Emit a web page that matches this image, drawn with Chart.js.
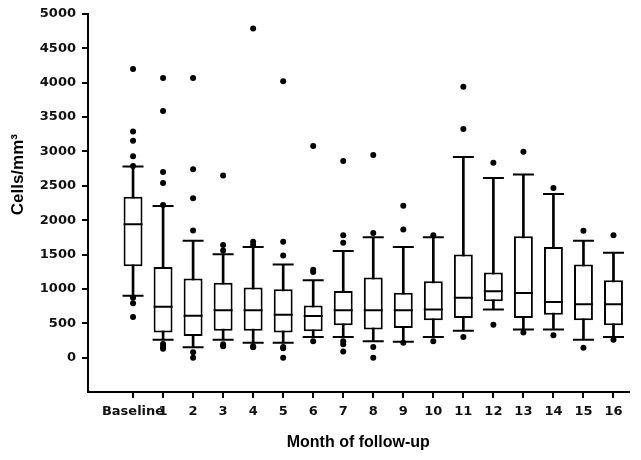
<!DOCTYPE html>
<html>
<head>
<meta charset="utf-8">
<script src="https://cdn.jsdelivr.net/npm/chart.js@4"></script>
<style>
  body { margin: 0; background: #fff; }
  #wrap { width: 641px; height: 460px; }
</style>
</head>
<body>
<div id="wrap"><canvas id="boxChart" width="641" height="460"></canvas></div>
<script>
// box plot data
var categories = ["Baseline", "1", "2", "3", "4", "5", "6", "7", "8", "9", "10", "11", "12", "13", "14", "15", "16"];
var whiskerLow = [900, 260, 150, 260, 215, 215, 300, 300, 240, 230, 300, 390, 700, 410, 410, 260, 300];
var q1 = [1330, 365, 315, 390, 390, 365, 385, 470, 410, 430, 545, 575, 820, 575, 625, 545, 470];
var median = [1940, 740, 610, 690, 690, 625, 605, 690, 690, 690, 700, 870, 965, 940, 810, 775, 775];
var q3 = [2340, 1320, 1150, 1090, 1020, 995, 760, 970, 1165, 945, 1110, 1500, 1240, 1765, 1610, 1355, 1125];
var whiskerHigh = [2780, 2205, 1700, 1505, 1610, 1355, 1125, 1550, 1750, 1610, 1750, 2920, 2615, 2665, 2380, 1700, 1525];
var outliers = [
    [4200, 3290, 3155, 2930, 2790, 870, 790, 590],
    [4070, 3590, 2700, 2540, 2220, 200, 160, 130],
    [4070, 2740, 2320, 1850, 80, 0],
    [2650, 1640, 1560, 195, 165],
    [4790, 1685, 1640, 165, 150],
    [4020, 1685, 1485, 155, 135, 0],
    [3080, 1280, 1245, 240],
    [2860, 1780, 1670, 240, 195, 90],
    [2950, 1815, 155, 0],
    [2210, 1865, 215],
    [1780, 240],
    [3940, 3325, 300],
    [2835, 480],
    [2995, 365],
    [2470, 325],
    [1845, 145],
    [1780, 260]
];
var yTicks = { min: -500, max: 5000, step: 500 };

// empty first slot gives the wider gap left of Baseline
var labels = [""].concat(categories);

var outlierPoints = [];
categories.forEach(function (c, i) {
    outliers[i].forEach(function (v) {
        outlierPoints.push({ x: c, y: v });
    });
});

function pts(arr) {
    return categories.map(function (c, i) { return { x: c, y: arr[i] }; });
}

var fontTick = { family: "DejaVu Sans", size: 13, weight: "bold" };

var ctx = document.getElementById("boxChart").getContext("2d");
var chart = new Chart(ctx, {
    type: "bar",
    data: {
        labels: labels,
        datasets: [
            {
                // whisker stems
                label: "range",
                data: categories.map(function (c, i) { return { x: c, y: [whiskerLow[i], whiskerHigh[i]] }; }),
                backgroundColor: "#000",
                barThickness: 2,
                grouped: false,
                order: 5,
            },
            {
                label: "IQR",
                data: categories.map(function (c, i) { return { x: c, y: [q1[i], q3[i]] }; }),
                backgroundColor: "#fff",
                borderColor: "#000",
                borderWidth: 2,
                borderSkipped: false,
                barPercentage: 0.63,
                categoryPercentage: 1,
                grouped: false,
                order: 4,
            },
            {
                type: "line",
                label: "median",
                data: pts(median),
                showLine: false,
                pointStyle: "line",
                pointRadius: 9.5,
                pointBorderWidth: 2,
                pointBorderColor: "#000",
                order: 3,
            },
            {
                type: "line",
                label: "cap high",
                data: pts(whiskerHigh),
                showLine: false,
                pointStyle: "line",
                pointRadius: 10.5,
                pointBorderWidth: 2,
                pointBorderColor: "#000",
                order: 2,
            },
            {
                type: "line",
                label: "cap low",
                data: pts(whiskerLow),
                showLine: false,
                pointStyle: "line",
                pointRadius: 10.5,
                pointBorderWidth: 2,
                pointBorderColor: "#000",
                order: 2,
            },
            {
                type: "line",
                label: "outliers",
                data: outlierPoints,
                showLine: false,
                pointStyle: "circle",
                pointRadius: 3,
                pointBackgroundColor: "#000",
                pointBorderColor: "#000",
                pointBorderWidth: 0,
                order: 1,
            },
        ],
    },
    options: {
        responsive: false,
        animation: false,
        layout: { padding: { top: 14, right: 9, left: 0, bottom: 0 } },
        plugins: {
            legend: { display: false },
            tooltip: { enabled: false },
        },
        scales: {
            x: {
                type: "category",
                offset: true,
                afterFit: function (scale) { scale.height = 68; },
                border: { display: true, color: "#000", width: 2 },
                grid: {
                    offset: false,
                    drawOnChartArea: false,
                    drawTicks: true,
                    tickLength: 6,
                    lineWidth: 2,
                    tickColor: function (c) { return c.index === 0 ? "rgba(0,0,0,0)" : "#000"; },
                },
                ticks: {
                    color: "#111",
                    font: fontTick,
                    padding: 6,
                    maxRotation: 0,
                    autoSkip: false,
                },
                title: {
                    display: true,
                    text: "Month of follow-up",
                    color: "#000",
                    font: { family: "Liberation Sans", size: 16, weight: "bold" },
                    padding: { top: 4, bottom: 8 },
                },
            },
            y: {
                min: yTicks.min,
                max: yTicks.max,
                afterFit: function (scale) { scale.width = 88; },
                border: { display: true, color: "#000", width: 2 },
                grid: {
                    drawOnChartArea: false,
                    drawTicks: true,
                    tickLength: 6,
                    lineWidth: 2,
                    tickColor: function (c) { return c.tick && c.tick.value < 0 ? "rgba(0,0,0,0)" : "#000"; },
                },
                ticks: {
                    stepSize: yTicks.step,
                    color: "#111",
                    font: fontTick,
                    padding: 6,
                    callback: function (v) { return v < 0 ? "" : v; },
                },
                title: {
                    display: true,
                    text: "\u00a0\u00a0\u00a0\u00a0\u00a0\u00a0\u00a0\u00a0\u00a0\u00a0\u00a0\u00a0Cells/mm\u00b3",
                    color: "#000",
                    font: { family: "Liberation Sans", size: 17, weight: "bold" },
                    padding: { top: 8, bottom: 0 },
                },
            },
        },
    },
});
</script>
</body>
</html>
